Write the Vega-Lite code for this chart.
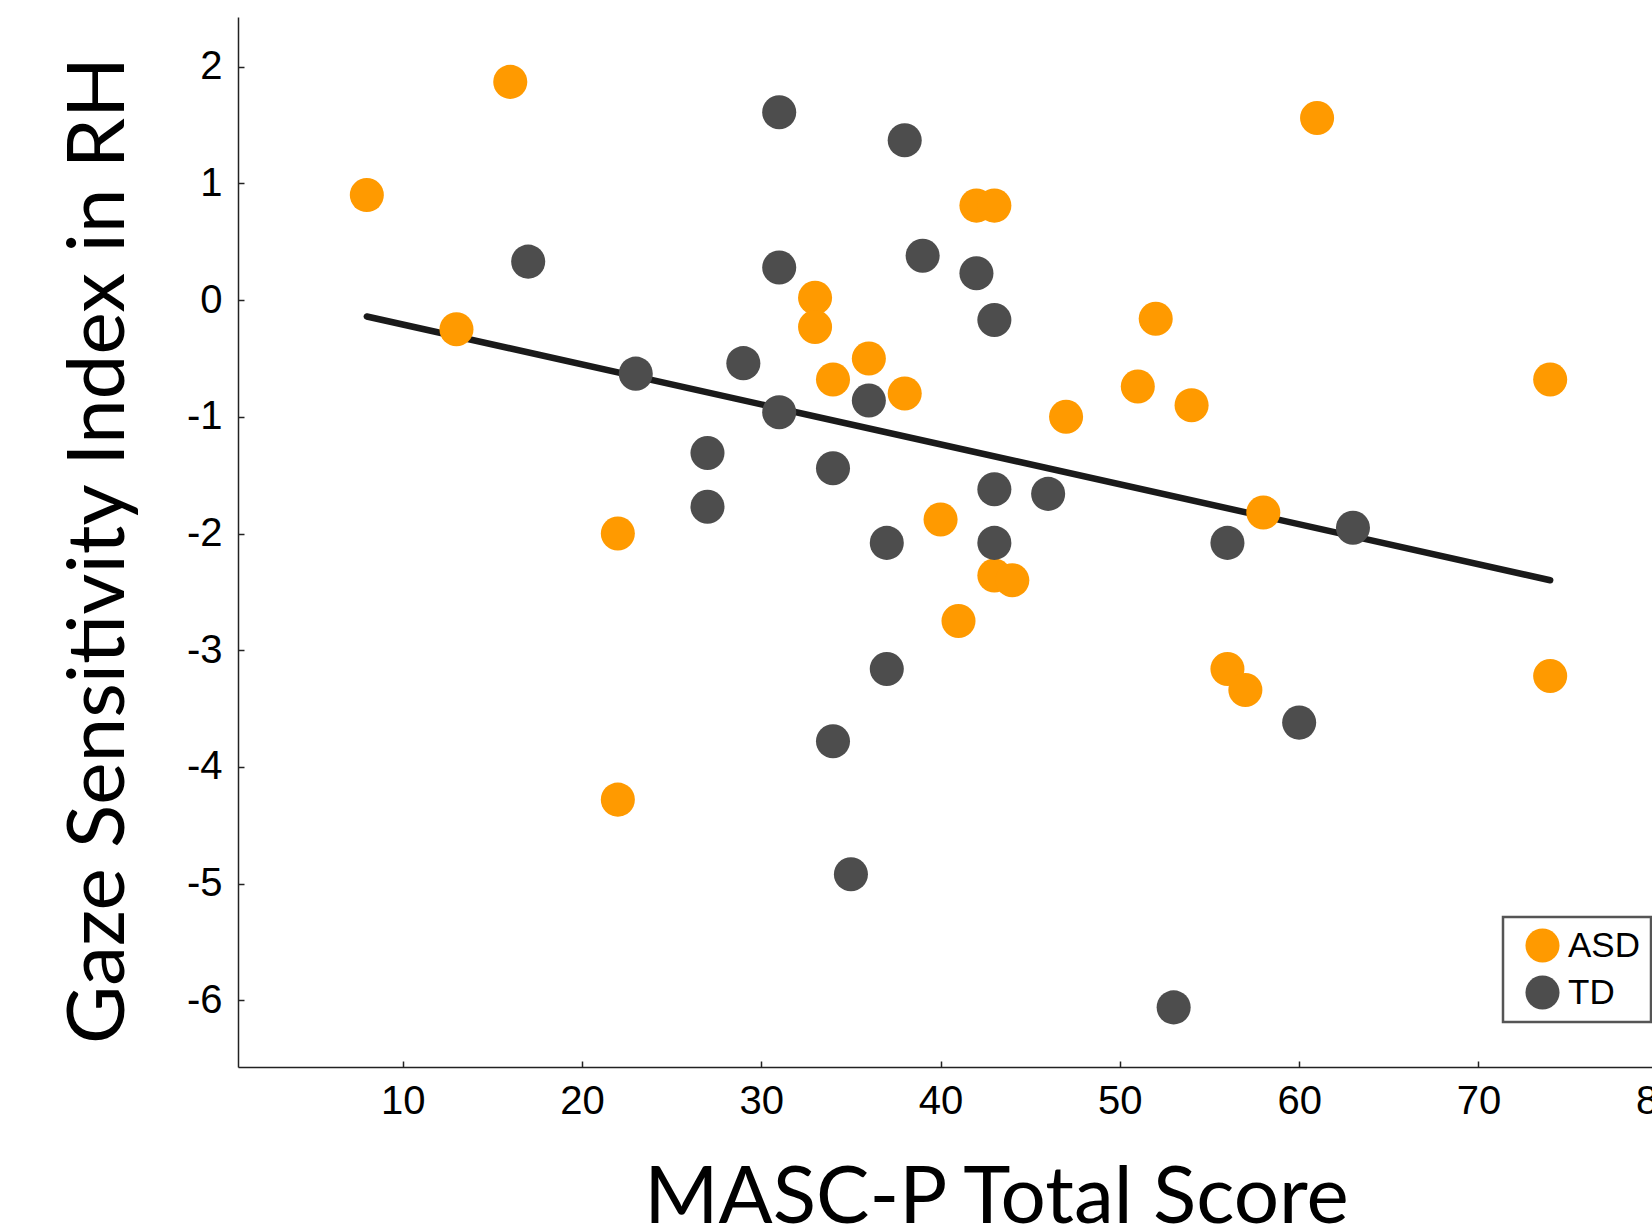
{
  "$schema": "https://vega.github.io/schema/vega-lite/v6.json",
  "autosize": "none",
  "width": 1414,
  "height": 1050,
  "padding": {"left": 238, "top": 17, "right": 0, "bottom": 163},
  "background": "white",
  "config": {"view": {"stroke": null}, "legend": {"strokeWidth": 2.5}},
  "datasets": {
    "fit": [
      {"masc": 8, "gsi": -0.14},
      {"masc": 74, "gsi": -2.40}
    ],
    "points": [
      {"group": "ASD", "masc": 8, "gsi": 0.90},
      {"group": "ASD", "masc": 13, "gsi": -0.25},
      {"group": "ASD", "masc": 16, "gsi": 1.87},
      {"group": "ASD", "masc": 22, "gsi": -2.00},
      {"group": "ASD", "masc": 22, "gsi": -4.28},
      {"group": "ASD", "masc": 33, "gsi": 0.02},
      {"group": "ASD", "masc": 33, "gsi": -0.23},
      {"group": "ASD", "masc": 34, "gsi": -0.68},
      {"group": "ASD", "masc": 36, "gsi": -0.50},
      {"group": "ASD", "masc": 38, "gsi": -0.80},
      {"group": "ASD", "masc": 40, "gsi": -1.88},
      {"group": "ASD", "masc": 41, "gsi": -2.75},
      {"group": "ASD", "masc": 42, "gsi": 0.81},
      {"group": "ASD", "masc": 43, "gsi": 0.81},
      {"group": "ASD", "masc": 43, "gsi": -2.36},
      {"group": "ASD", "masc": 44, "gsi": -2.40},
      {"group": "ASD", "masc": 47, "gsi": -1.00},
      {"group": "ASD", "masc": 51, "gsi": -0.74},
      {"group": "ASD", "masc": 52, "gsi": -0.16},
      {"group": "ASD", "masc": 54, "gsi": -0.90},
      {"group": "ASD", "masc": 56, "gsi": -3.16},
      {"group": "ASD", "masc": 57, "gsi": -3.34},
      {"group": "ASD", "masc": 58, "gsi": -1.82},
      {"group": "ASD", "masc": 61, "gsi": 1.56},
      {"group": "ASD", "masc": 74, "gsi": -0.68},
      {"group": "ASD", "masc": 74, "gsi": -3.22},
      {"group": "TD", "masc": 17, "gsi": 0.33},
      {"group": "TD", "masc": 23, "gsi": -0.63},
      {"group": "TD", "masc": 27, "gsi": -1.31},
      {"group": "TD", "masc": 27, "gsi": -1.77},
      {"group": "TD", "masc": 29, "gsi": -0.54},
      {"group": "TD", "masc": 31, "gsi": 1.61},
      {"group": "TD", "masc": 31, "gsi": 0.28},
      {"group": "TD", "masc": 31, "gsi": -0.96},
      {"group": "TD", "masc": 34, "gsi": -1.44},
      {"group": "TD", "masc": 34, "gsi": -3.78},
      {"group": "TD", "masc": 35, "gsi": -4.92},
      {"group": "TD", "masc": 36, "gsi": -0.86},
      {"group": "TD", "masc": 37, "gsi": -2.08},
      {"group": "TD", "masc": 37, "gsi": -3.16},
      {"group": "TD", "masc": 38, "gsi": 1.37},
      {"group": "TD", "masc": 39, "gsi": 0.38},
      {"group": "TD", "masc": 42, "gsi": 0.23},
      {"group": "TD", "masc": 43, "gsi": -0.17},
      {"group": "TD", "masc": 43, "gsi": -1.62},
      {"group": "TD", "masc": 43, "gsi": -2.08},
      {"group": "TD", "masc": 46, "gsi": -1.66},
      {"group": "TD", "masc": 53, "gsi": -6.06},
      {"group": "TD", "masc": 56, "gsi": -2.08},
      {"group": "TD", "masc": 60, "gsi": -3.62},
      {"group": "TD", "masc": 63, "gsi": -1.95}
    ]
  },
  "encoding": {
    "x": {
      "field": "masc",
      "type": "quantitative",
      "scale": {"domain": [0.815, 85.0], "range": [0, 1509.4], "nice": false, "zero": false},
      "axis": {
        "title": "MASC-P Total Score",
        "values": [10, 20, 30, 40, 50, 60, 70, 80],
        "grid": false,
        "labelFlush": false,
        "labelOverlap": false,
        "labelFont": "Liberation Sans",
        "labelFontSize": 40,
        "labelColor": "#000000",
        "labelPadding": 20,
        "tickSize": -6,
        "tickColor": "#222222",
        "tickWidth": 1.5,
        "domainColor": "#222222",
        "domainWidth": 1.5,
        "titleFont": "Lato",
        "titleFontSize": 80,
        "titleFontWeight": "normal",
        "titleColor": "#000000",
        "titleX": 758,
        "titleY": 155,
        "titleBaseline": "alphabetic",
        "titleAlign": "center"
      }
    },
    "y": {
      "field": "gsi",
      "type": "quantitative",
      "scale": {"domain": [-6.571, 2.426], "nice": false, "zero": false},
      "axis": {
        "title": "Gaze Sensitivity Index in RH",
        "values": [-6, -5, -4, -3, -2, -1, 0, 1, 2],
        "labelExpr": "replace(datum.label, '−', '-')",
        "grid": false,
        "labelOverlap": false,
        "labelFont": "Liberation Sans",
        "labelFontSize": 40,
        "labelColor": "#000000",
        "labelPadding": 22,
        "tickSize": -6,
        "tickColor": "#222222",
        "tickWidth": 1.5,
        "domainColor": "#222222",
        "domainWidth": 1.5,
        "titleFont": "Lato",
        "titleFontSize": 80,
        "titleFontWeight": "normal",
        "titleColor": "#000000",
        "titleAngle": 270,
        "titleX": -115,
        "titleY": 533,
        "titleBaseline": "alphabetic",
        "titleAlign": "center"
      }
    }
  },
  "layer": [
    {
      "data": {"name": "fit"},
      "mark": {"type": "line", "color": "#1a1a1a", "strokeWidth": 6.5, "strokeCap": "round"},
      "encoding": {}
    },
    {
      "data": {"name": "points"},
      "mark": {"type": "circle", "size": 1160, "opacity": 1},
      "encoding": {
        "color": {
          "field": "group",
          "type": "nominal",
          "scale": {"domain": ["ASD", "TD"], "range": ["#ff9a00", "#4d4d4d"]},
          "legend": {
            "title": null,
            "orient": "none",
            "legendX": 1265,
            "legendY": 900,
            "padding": 11,
            "symbolOffset": 11,
            "rowPadding": 11,
            "symbolSize": 1160,
            "symbolType": "circle",
            "symbolStrokeWidth": 0,
            "symbolOpacity": 1,
            "labelFont": "Liberation Sans",
            "labelFontSize": 35,
            "labelColor": "#000000",
            "labelOffset": 8,
            "labelExpr": "datum.label + '\u00a0\u00a0\u00a0\u00a0'",
            "strokeColor": "#555555",
            "fillColor": "white"
          }
        }
      }
    }
  ]
}
